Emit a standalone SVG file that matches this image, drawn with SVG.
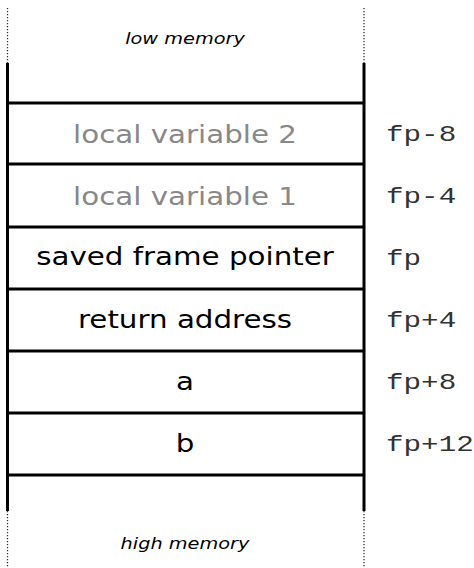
<svg xmlns="http://www.w3.org/2000/svg" width="474" height="568" viewBox="0 0 474 568">
<style>
.wall{stroke:#000;stroke-width:3;fill:none}
.dot{stroke:#333;stroke-width:1.3;stroke-dasharray:1.3,1.7;fill:none}
.sep{stroke:#000;stroke-width:3}
.cell{font-family:"DejaVu Sans",Verdana,sans-serif;font-size:25.5px;text-anchor:middle;fill:#000}
.grey{fill:#888}
.note{font-family:"DejaVu Sans",Verdana,sans-serif;font-size:16.5px;font-style:italic;text-anchor:middle;fill:#000}
.off{font-family:"Liberation Mono","Courier New",monospace;font-size:22px;fill:#333}
</style>
<rect width="474" height="568" fill="#fff"/>
<g id="frame">
<line class="dot" x1="7.5" y1="8" x2="7.5" y2="63"/>
<line class="dot" x1="364" y1="8" x2="364" y2="63"/>
<line class="wall" x1="7.5" y1="63" x2="7.5" y2="511"/>
<line class="wall" x1="364" y1="63" x2="364" y2="511"/>
<line class="dot" x1="7.5" y1="511" x2="7.5" y2="568"/>
<line class="dot" x1="364" y1="511" x2="364" y2="568"/>
<g transform="translate(185,0) scale(1.17,1) translate(-185,0)">
<text class="note" x="185" y="44">low memory</text>
<text class="note" x="185" y="549">high memory</text>
</g>
</g>
<g id="connectors">
<line class="sep" x1="7.5" y1="103" x2="364" y2="103"/>
<line class="sep" x1="7.5" y1="164" x2="364" y2="164"/>
<line class="sep" x1="7.5" y1="227" x2="364" y2="227"/>
<line class="sep" x1="7.5" y1="289" x2="364" y2="289"/>
<line class="sep" x1="7.5" y1="351" x2="364" y2="351"/>
<line class="sep" x1="7.5" y1="413" x2="364" y2="413"/>
<line class="sep" x1="7.5" y1="475" x2="364" y2="475"/>
</g>
<g transform="translate(185,0) scale(1.15,1) translate(-185,0)">
<g id="local2"><text class="cell grey" x="185" y="143">local variable 2</text></g>
<g id="local1"><text class="cell grey" x="185" y="205">local variable 1</text></g>
<g id="savedfp"><text class="cell" x="185" y="265">saved frame pointer</text></g>
<g id="retaddr"><text class="cell" x="185" y="328">return address</text></g>
<g id="a"><text class="cell" x="185" y="390">a</text></g>
<g id="b"><text class="cell" x="185" y="452">b</text></g>
</g>
<g id="offsets" transform="translate(386,0) scale(1.33,1) translate(-386,0)">
<text class="off" x="386" y="141">fp-8</text>
<text class="off" x="386" y="203">fp-4</text>
<text class="off" x="386" y="265">fp</text>
<text class="off" x="386" y="327">fp+4</text>
<text class="off" x="386" y="389">fp+8</text>
<text class="off" x="386" y="451">fp+12</text>
</g>
</svg>
